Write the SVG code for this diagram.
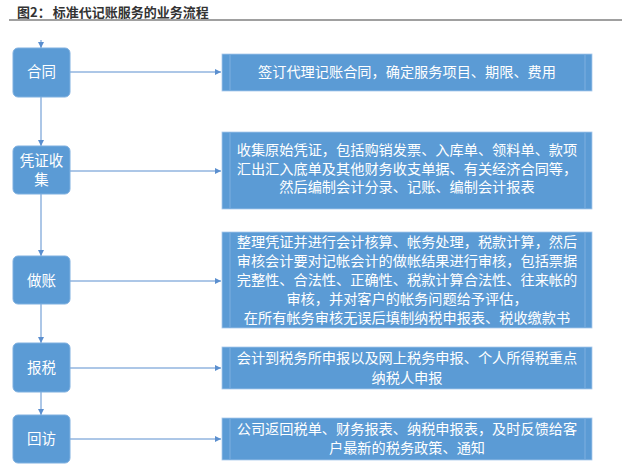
<svg xmlns="http://www.w3.org/2000/svg" width="640" height="470" viewBox="0 0 640 470">
<defs>
<marker id="ah" viewBox="0 0 6 6" refX="6" refY="3" markerWidth="6" markerHeight="6" markerUnits="userSpaceOnUse" orient="auto">
<path d="M0,0 L6,3 L0,6 z" fill="#5B8FCF"/>
</marker>
</defs>
<style>
.title{font-family:"Noto Sans CJK SC","Liberation Sans",sans-serif;font-size:13px;font-weight:bold;fill:#333}
.step{fill:#5B9BD5;stroke:#7FB0E0;stroke-width:1}
.desc{fill:#5B9BD5;stroke:#A9C8EA;stroke-width:0.8}
.strip{stroke:#7FAFE0;stroke-width:1}
.lbl{font-family:"Noto Sans CJK SC","Liberation Sans",sans-serif;font-size:14.5px;fill:#fff;text-anchor:middle}
.txt{font-family:"Noto Sans CJK SC","Liberation Sans",sans-serif;font-size:14.2px;fill:#fff;text-anchor:middle}
.conn{stroke:#5B8FCF;stroke-width:1;fill:none}
</style>
<rect width="640" height="470" fill="#fff"/>
<text class="title" x="17" y="17">图2：<tspan dx="2">标准代记账服务的业务流程</tspan></text>
<line x1="9" y1="20" x2="622" y2="20" stroke="#A0A0A0" stroke-width="2"/>

<g id="connectors">
<line class="conn" x1="41" y1="40" x2="41" y2="48" marker-end="url(#ah)"/>
<line class="conn" x1="41" y1="97" x2="41" y2="146" marker-end="url(#ah)"/>
<line class="conn" x1="41" y1="194" x2="41" y2="256" marker-end="url(#ah)"/>
<line class="conn" x1="41" y1="304" x2="41" y2="343" marker-end="url(#ah)"/>
<line class="conn" x1="41" y1="392" x2="41" y2="415" marker-end="url(#ah)"/>
<line class="conn" x1="70" y1="72" x2="221" y2="72" marker-end="url(#ah)"/>
<line class="conn" x1="70" y1="171" x2="221" y2="171" marker-end="url(#ah)"/>
<line class="conn" x1="70" y1="281" x2="221" y2="281" marker-end="url(#ah)"/>
<line class="conn" x1="70" y1="368" x2="221" y2="368" marker-end="url(#ah)"/>
<line class="conn" x1="70" y1="439" x2="221" y2="439" marker-end="url(#ah)"/>
</g>

<g id="n1">
<rect class="step" x="13" y="48" width="57" height="49" rx="5"/>
<text class="lbl" x="41.5" y="77">合同</text>
</g>
<g id="d1">
<rect class="desc" x="222" y="54" width="370" height="37"/>
<line class="strip" x1="230" y1="55" x2="230" y2="90"/>
<line class="strip" x1="585" y1="55" x2="585" y2="90"/>
<text class="txt" x="407" y="77">签订代理记账合同，确定服务项目、期限、费用</text>
</g>

<g id="n2">
<rect class="step" x="13" y="146" width="57" height="48" rx="5"/>
<text class="lbl" x="41.5" y="166">凭证收</text>
<text class="lbl" x="41.5" y="185">集</text>
</g>
<g id="d2">
<rect class="desc" x="222" y="132" width="370" height="77"/>
<line class="strip" x1="230" y1="133" x2="230" y2="208"/>
<line class="strip" x1="585" y1="133" x2="585" y2="208"/>
<text class="txt" x="407" y="155">收集原始凭证，包括购销发票、入库单、领料单、款项</text>
<text class="txt" x="407" y="173.5">汇出汇入底单及其他财务收支单据、有关经济合同等，</text>
<text class="txt" x="407" y="192">然后编制会计分录、记账、编制会计报表</text>
</g>

<g id="n3">
<rect class="step" x="13" y="256" width="57" height="48" rx="5"/>
<text class="lbl" x="41.5" y="286">做账</text>
</g>
<g id="d3">
<rect class="desc" x="222" y="232" width="370" height="96"/>
<line class="strip" x1="230" y1="233" x2="230" y2="327"/>
<line class="strip" x1="585" y1="233" x2="585" y2="327"/>
<text class="txt" x="407" y="246.5">整理凭证并进行会计核算、帐务处理，税款计算，然后</text>
<text class="txt" x="407" y="265.5">审核会计要对记帐会计的做帐结果进行审核，包括票据</text>
<text class="txt" x="407" y="284.5">完整性、合法性、正确性、税款计算合法性、往来帐的</text>
<text class="txt" x="407" y="303.5">审核，并对客户的帐务问题给予评估，</text>
<text class="txt" x="407" y="322.5">在所有帐务审核无误后填制纳税申报表、税收缴款书</text>
</g>

<g id="n4">
<rect class="step" x="13" y="343" width="57" height="49" rx="5"/>
<text class="lbl" x="41.5" y="373">报税</text>
</g>
<g id="d4">
<rect class="desc" x="222" y="347" width="370" height="42"/>
<line class="strip" x1="230" y1="348" x2="230" y2="388"/>
<line class="strip" x1="585" y1="348" x2="585" y2="388"/>
<text class="txt" x="407" y="363">会计到税务所申报以及网上税务申报、个人所得税重点</text>
<text class="txt" x="407" y="383">纳税人申报</text>
</g>

<g id="n5">
<rect class="step" x="13" y="415" width="57" height="48" rx="5"/>
<text class="lbl" x="41.5" y="444">回访</text>
</g>
<g id="d5">
<rect class="desc" x="222" y="418" width="370" height="42"/>
<line class="strip" x1="230" y1="419" x2="230" y2="459"/>
<line class="strip" x1="585" y1="419" x2="585" y2="459"/>
<text class="txt" x="407" y="433.5">公司返回税单、财务报表、纳税申报表，及时反馈给客</text>
<text class="txt" x="407" y="453">户最新的税务政策、通知</text>
</g>
</svg>
